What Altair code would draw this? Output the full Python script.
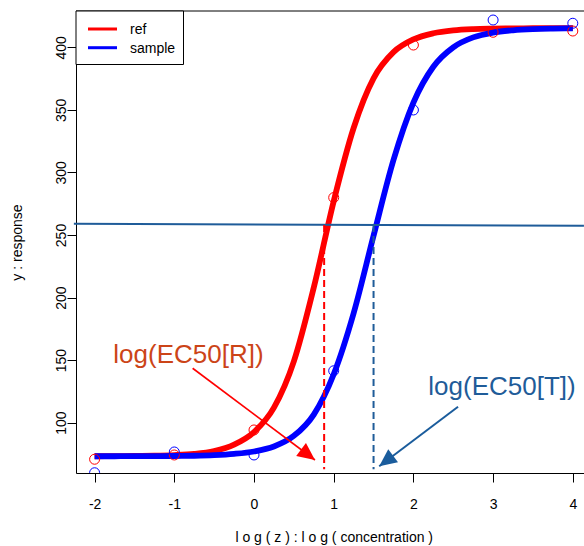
import altair as alt
import pandas as pd

# Observed responses at each log concentration
log_conc = [-2, -1, 0, 1, 2, 3, 4]
ref_obs = [70.8, 74.2, 94.2, 279.9, 401.8, 412.0, 413.0]
sample_obs = [60.0, 76.6, 74.2, 141.5, 349.9, 421.8, 419.2]

# Fitted dose-response curves
curve_x = [-2.0, -1.75, -1.5, -1.25, -1.0, -0.75, -0.5, -0.25, 0.0, 0.25, 0.5, 0.75,
           1.0, 1.25, 1.5, 1.75, 2.0, 2.25, 2.5, 2.75, 3.0, 3.25, 3.5, 3.75, 4.0]
ref_fit = [73.2, 73.3, 73.4, 73.6, 74.1, 75.1, 77.4, 82.5, 92.5, 112.0, 149.0, 208.0,
           277.0, 335.5, 375.2, 396.1, 406.3, 411.2, 413.5, 414.5, 414.9, 415.1, 415.2, 415.3, 415.3]
sample_fit = [73.2, 73.2, 73.3, 73.3, 73.4, 73.6, 74.1, 75.1, 77.0, 81.0, 89.5, 106.5,
              138.7, 187.5, 249.4, 309.9, 355.8, 384.5, 400.0, 407.9, 411.8, 413.6, 414.5, 414.9, 415.1]

series_names = ["ref", "sample"]
series_colors = ["#FF0000", "#0000FF"]

# EC50 annotation
ec50_log = [0.88, 1.50]
ec50_colors = ["#FF0000", "#1F5C99"]
half_x = [-2.26, 4.14]
half_y = [259.0, 257.3]
drop_top = 258.0
drop_bottom = 62.8

arrow_from_x = [-0.77, 2.56]
arrow_from_y = [143.5, 112.8]
arrow_to_x = [0.765, 1.571]
arrow_to_y = [70.2, 65.2]
arrow_angle = [127, 233]
arrow_widths = [1.6, 2.0]
arrow_colors = ["#FF0000", "#1A5C9C"]

label_text = ["log(EC50[R])", "log(EC50[T])"]
label_x = [-0.822, 3.112]
label_y = [148.0, 122.1]
label_colors = ["#CC4418", "#1F5C99"]

FONT = "Liberation Sans"
W, H = 508, 462

obs = pd.DataFrame({
    "x": log_conc * 2,
    "y": ref_obs + sample_obs,
    "series": [series_names[0]] * len(log_conc) + [series_names[1]] * len(log_conc),
})
ref_curve = pd.DataFrame({"x": curve_x, "y": ref_fit, "series": series_names[0]})
sample_curve = pd.DataFrame({"x": curve_x, "y": sample_fit, "series": series_names[1]})
half_df = pd.DataFrame({"x": [half_x[0]], "x2": [half_x[1]], "y": [half_y[0]], "y2": [half_y[1]]})
drops = pd.DataFrame({"x": ec50_log, "y": [drop_top] * 2, "y2": [drop_bottom] * 2, "color": ec50_colors})
arrows = pd.DataFrame({"x": arrow_from_x, "y": arrow_from_y, "x2": arrow_to_x, "y2": arrow_to_y,
                       "angle": arrow_angle, "w": arrow_widths, "color": arrow_colors})
labels = pd.DataFrame({"x": label_x, "y": label_y, "text": label_text, "color": label_colors})
single = pd.DataFrame({"k": [0]})

x_scale = alt.Scale(domain=[-2.2334, 4.1405], nice=False, zero=False)
y_scale = alt.Scale(domain=[59.8, 429.0], nice=False, zero=False)
x_axis = alt.Axis(values=[-2, -1, 0, 1, 2, 3, 4], title="l o g ( z ) : l o g ( concentration )",
                  labelExpr="'' + datum.value", tickSize=9, labelPadding=15,
                  titleY=68, titleBaseline="alphabetic", titleX=257.7, titleAlign="center")
y_axis = alt.Axis(values=[100, 150, 200, 250, 300, 350, 400], title="y : response",
                  tickSize=9, labelPadding=2, labelAngle=270, labelAlign="center",
                  labelBaseline="alphabetic", titleAngle=270, titleX=-55, titleY=H / 2,
                  titleAlign="center", titleBaseline="alphabetic")


def X(field="x"):
    return alt.X(f"{field}:Q", scale=x_scale, axis=x_axis)


def Y(field="y"):
    return alt.Y(f"{field}:Q", scale=y_scale, axis=y_axis)


series_color = alt.Color("series:N", scale=alt.Scale(domain=series_names, range=series_colors), legend=None)

ref_line = alt.Chart(ref_curve).mark_line(strokeWidth=5.8, interpolate="monotone", clip=True).encode(
    x=X(), y=Y(), color=series_color)
sample_line = alt.Chart(sample_curve).mark_line(strokeWidth=5.8, interpolate="monotone", clip=True).encode(
    x=X(), y=Y(), color=series_color)
points = alt.Chart(obs).mark_point(shape="circle", filled=False, size=100, strokeWidth=1,
                                   opacity=1, clip=True).encode(x=X(), y=Y(), color=series_color)

half_line = alt.Chart(half_df).mark_rule(color="#1F5C99", strokeWidth=2).encode(
    x=X(), x2="x2:Q", y=Y(), y2="y2:Q")
drop_lines = alt.Chart(drops).mark_rule(strokeWidth=2, strokeDash=[7, 4]).encode(
    x=X(), y=Y(), y2="y2:Q", color=alt.Color("color:N", scale=None))
arrow_shafts = alt.Chart(arrows).mark_rule().encode(
    x=X(), y=Y(), x2="x2:Q", y2="y2:Q", color=alt.Color("color:N", scale=None),
    strokeWidth=alt.StrokeWidth("w:Q", scale=None))
arrow_heads = alt.Chart(arrows).mark_point(shape="M0,0L-1.35,2.9L1.35,2.9Z", filled=True, size=144,
                                           opacity=1).encode(
    x=X("x2"), y=Y("y2"), angle=alt.Angle("angle:Q", scale=None),
    color=alt.Color("color:N", scale=None))
label_marks = alt.Chart(labels).mark_text(font=FONT, fontSize=26, align="center",
                                          baseline="alphabetic").encode(
    x=X(), y=Y(), text="text:N", color=alt.Color("color:N", scale=None))

# top edge of the plot frame
frame_top = alt.Chart(single).mark_rule(color="black", strokeWidth=1).encode(
    x=alt.value(0), x2=alt.value(W), y=alt.value(0))

# legend box in the top-left corner
legend_layers = [
    alt.Chart(single).mark_rect(fill="white", stroke="black", strokeWidth=1).encode(
        x=alt.value(0), x2=alt.value(107.5), y=alt.value(0), y2=alt.value(53.5))
]
for i, (name, col) in enumerate(zip(series_names, series_colors)):
    yy = 18 + 18.7 * i
    legend_layers.append(alt.Chart(single).mark_rule(color=col, strokeWidth=3).encode(
        x=alt.value(12), x2=alt.value(41), y=alt.value(yy)))
    legend_layers.append(alt.Chart(single).mark_text(text=name, font=FONT, fontSize=14, align="left",
                                                     baseline="middle", color="black").encode(
        x=alt.value(54), y=alt.value(yy + 1)))

chart = alt.layer(
    ref_line, sample_line, points, half_line, drop_lines, arrow_shafts, arrow_heads,
    label_marks, frame_top, *legend_layers
).properties(
    width=W, height=H,
    padding={"left": 76, "top": 11, "right": 0, "bottom": 73},
    autosize=alt.AutoSizeParams(type="none"),
).configure_view(stroke=None).configure_axis(
    grid=False, domainColor="black", tickColor="black", labelColor="black", titleColor="black",
    labelFont=FONT, titleFont=FONT, labelFontSize=14, titleFontSize=14, titleFontWeight="normal",
    domainWidth=1, tickWidth=1,
)

chart.save("out.html", embed_options={"renderer": "svg", "actions": False})
